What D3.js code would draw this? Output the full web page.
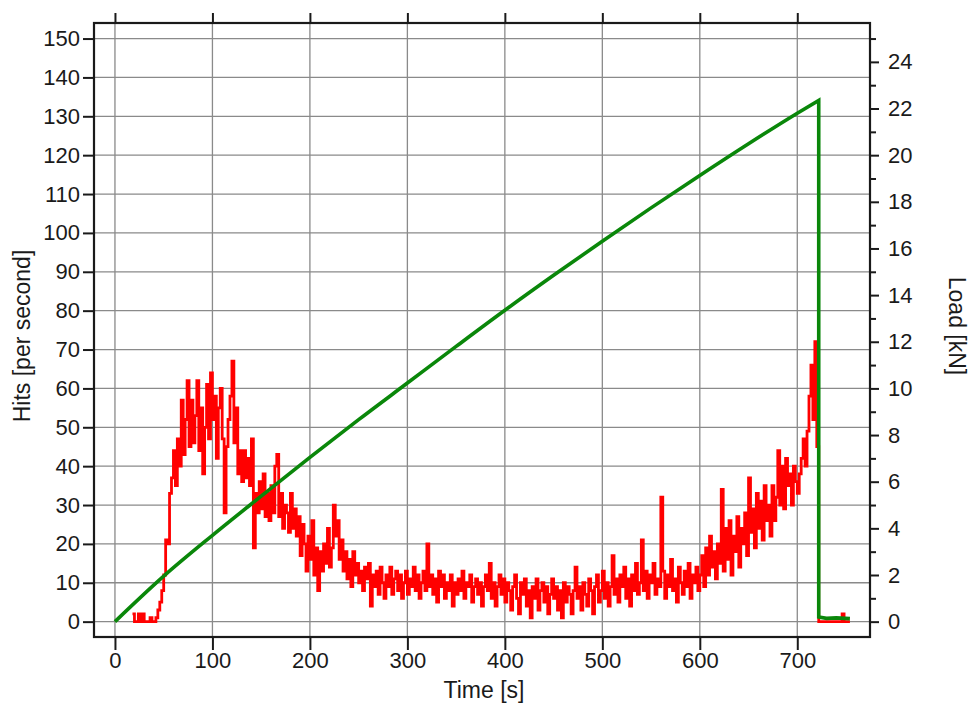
<!DOCTYPE html>
<html><head><meta charset="utf-8">
<script src="https://cdn.jsdelivr.net/npm/d3@7"></script>
<style>
body{margin:0;background:#fff;}
text{font-family:"Liberation Sans",Arial,Helvetica,sans-serif;}
</style>
</head><body>
<svg id="chart" width="971" height="704"></svg>
<script>
// ---- tick labels ----
const timeTicks = [0, 100, 200, 300, 400, 500, 600, 700];
const hitsTicks = [0, 10, 20, 30, 40, 50, 60, 70, 80, 90, 100, 110, 120, 130, 140, 150];
const loadTicks = [0, 2, 4, 6, 8, 10, 12, 14, 16, 18, 20, 22, 24];
const loadMinorTicks = [1, 3, 5, 7, 9, 11, 13, 15, 17, 19, 21, 23, 25];

// ---- hits per second (red), 2 s bins starting at t = 18 s ----
const hitsStart = 18;
const hitsStep = 2;
const hitsValues = [
  2, 0, 0, 2, 0, 2, 0, 0, 0, 1,          // 18-36
  0, 0, 1, 3, 5, 8, 12, 21, 20, 33,      // 38-56
  37, 44, 35, 47, 40, 57, 43, 52, 62, 45,// 58-76
  57, 46, 53, 62, 44, 55, 38, 50, 61, 47,// 78-96
  64, 52, 58, 42, 55, 60, 47, 28, 45, 52,// 98-116
  58, 67, 46, 55, 38, 44, 36, 44, 37, 42,// 118-136
  35, 47, 19, 33, 28, 36, 29, 38, 27, 33,// 138-156
  26, 35, 28, 40, 43, 27, 33, 24, 30, 28,// 158-176
  23, 33, 24, 29, 22, 27, 17, 25, 20, 13,// 178-196
  22, 16, 26, 12, 19, 8, 18, 13, 20, 15, // 198-216
  24, 14, 19, 30, 22, 26, 16, 21, 13, 18,// 218-236
  11, 16, 9, 18, 12, 15, 10, 13, 8, 14,  // 238-256
  11, 15, 4, 12, 9, 13, 7, 14, 10, 6,    // 258-276
  12, 9, 14, 7, 11, 13, 8, 12, 6, 10,    // 278-296
  13, 7, 11, 9, 14, 8, 12, 6, 10, 13,    // 298-316
  8, 20, 9, 12, 7, 11, 5, 13, 9, 12,     // 318-336
  6, 10, 8, 12, 4, 10, 7, 11, 8, 13,     // 338-356
  6, 10, 9, 12, 5, 9, 11, 7, 10, 4,      // 358-376
  9, 12, 8, 15, 6, 10, 4, 9, 12, 7,      // 378-396
  11, 5, 10, 8, 3, 9, 12, 6, 2, 10,      // 398-416
  7, 11, 4, 8, 1, 9, 6, 11, 3, 8,        // 418-436
  10, 5, 9, 2, 7, 11, 6, 9, 3, 8,        // 438-456
  1, 10, 5, 9, 7, 2, 8, 14, 6, 9,        // 458-476
  3, 10, 7, 4, 11, 8, 2, 9, 12, 5,       // 478-496
  8, 13, 6, 10, 4, 9, 17, 7, 11, 5,      // 498-516
  12, 9, 14, 6, 11, 4, 12, 8, 15, 7,     // 518-536
  10, 21, 8, 13, 6, 12, 10, 15, 7, 11,   // 538-556
  9, 32, 13, 6, 12, 9, 16, 8, 11, 5,     // 558-576
  14, 10, 7, 13, 9, 15, 6, 12, 10, 14,   // 578-596
  8, 12, 17, 9, 19, 12, 22, 14, 18, 11,  // 598-616
  20, 15, 34, 13, 24, 16, 26, 12, 22, 18,// 618-636
  27, 14, 24, 20, 28, 17, 37, 23, 29, 19,// 638-656
  33, 24, 31, 21, 35, 26, 30, 22, 35, 26,// 658-676
  32, 44, 30, 40, 29, 42, 35, 38, 30, 40,// 678-696
  36, 33, 38, 42, 47, 40, 49, 58, 66, 52,// 698-716
  72, 45, 0, 0, 0, 0, 0, 0, 0, 0,        // 718-736
  0, 0, 0, 0, 2, 0, 0, 0, 0              // 738-754
];

// ---- load (green) ----
const loadRiseTime  = [0, 50, 100, 150, 200, 250, 300, 350, 400, 450, 500, 550, 600, 650, 700, 722];
const loadRiseValue = [0, 1.95, 3.7, 5.38, 7.04, 8.66, 10.23, 11.8, 13.35, 14.85, 16.31, 17.74, 19.13, 20.49, 21.8, 22.35];
const loadAfterTime  = [722, 730, 740, 754];
const loadAfterValue = [0.2, 0.14, 0.16, 0.13];

const hitsData = hitsValues.map((v, i) => ({t: hitsStart + i * hitsStep, v}));
const riseData = loadRiseTime.map((t, i) => ({t, v: loadRiseValue[i]}));
const afterData = loadAfterTime.map((t, i) => ({t, v: loadAfterValue[i]}));

const svg = d3.select("#chart");
const L = 94, R = 870, T = 23, B = 637;

const x = d3.scaleLinear().domain([-21.5, 774.6]).range([L, R]);
const yL = d3.scaleLinear().domain([-3.95, 154]).range([B, T]);
const yR = d3.scaleLinear().domain([-3.95 / 6, 154 / 6]).range([B, T]);

// grid
const grid = svg.append("g").attr("stroke", "#8a8a8a").attr("stroke-width", 1.3);
grid.selectAll("line.v").data(timeTicks).join("line")
  .attr("x1", d => x(d)).attr("x2", d => x(d)).attr("y1", T).attr("y2", B);
grid.selectAll("line.h").data(hitsTicks).join("line")
  .attr("y1", d => yL(d)).attr("y2", d => yL(d)).attr("x1", L).attr("x2", R);

// data lines
svg.append("path").datum(hitsData)
  .attr("fill", "none").attr("stroke", "#ff0000").attr("stroke-width", 2.8)
  .attr("stroke-linejoin", "miter")
  .attr("d", d3.line().x(d => x(d.t)).y(d => yL(d.v)).curve(d3.curveStepAfter));

const riseLine = d3.line().x(d => x(d.t)).y(d => yR(d.v)).curve(d3.curveMonotoneX);
const flatLine = d3.line().x(d => x(d.t)).y(d => yR(d.v));
const greenPath = riseLine(riseData) + "L" + flatLine(afterData).slice(1);
svg.append("path")
  .attr("fill", "none").attr("stroke", "#0a870a").attr("stroke-width", 3.6)
  .attr("stroke-linejoin", "miter")
  .attr("d", greenPath);

// frame
svg.append("rect").attr("x", L).attr("y", T).attr("width", R - L).attr("height", B - T)
  .attr("fill", "none").attr("stroke", "#1a1a1a").attr("stroke-width", 2.2);

function styleAxis(g) {
  g.select(".domain").remove();
  g.selectAll(".tick line").attr("stroke", "#1a1a1a").attr("stroke-width", 2);
  g.selectAll(".tick text").attr("font-size", 22).attr("fill", "#1a1a1a")
    .attr("font-family", "'Liberation Sans', Arial, sans-serif");
}

svg.append("g").attr("transform", `translate(0,${B})`)
  .call(d3.axisBottom(x).tickValues(timeTicks).tickSize(13).tickPadding(2).tickFormat(d3.format("d")))
  .call(styleAxis);
svg.append("g").attr("transform", `translate(0,${T})`)
  .call(d3.axisTop(x).tickValues(timeTicks).tickSize(10).tickFormat(""))
  .call(styleAxis);
svg.append("g").attr("transform", `translate(${L},0)`)
  .call(d3.axisLeft(yL).tickValues(hitsTicks).tickSize(11).tickPadding(3).tickFormat(d3.format("d")))
  .call(styleAxis);
svg.append("g").attr("transform", `translate(${R},0)`)
  .call(d3.axisRight(yR).tickValues(loadTicks).tickSize(9).tickPadding(9).tickFormat(d3.format("d")))
  .call(styleAxis);
svg.append("g").attr("transform", `translate(${R},0)`)
  .call(d3.axisRight(yR).tickValues(loadMinorTicks).tickSize(6).tickFormat(""))
  .call(styleAxis);

// titles
svg.append("text").attr("x", 484).attr("y", 698).attr("text-anchor", "middle")
  .attr("font-size", 23).attr("fill", "#1a1a1a").text("Time [s]");
svg.append("text").attr("transform", "translate(30,336) rotate(-90)").attr("text-anchor", "middle")
  .attr("font-size", 23).attr("fill", "#1a1a1a").text("Hits [per second]");
svg.append("text").attr("transform", "translate(949,326) rotate(90)").attr("text-anchor", "middle")
  .attr("font-size", 23).attr("fill", "#1a1a1a").text("Load [kN]");
</script>
</body></html>
